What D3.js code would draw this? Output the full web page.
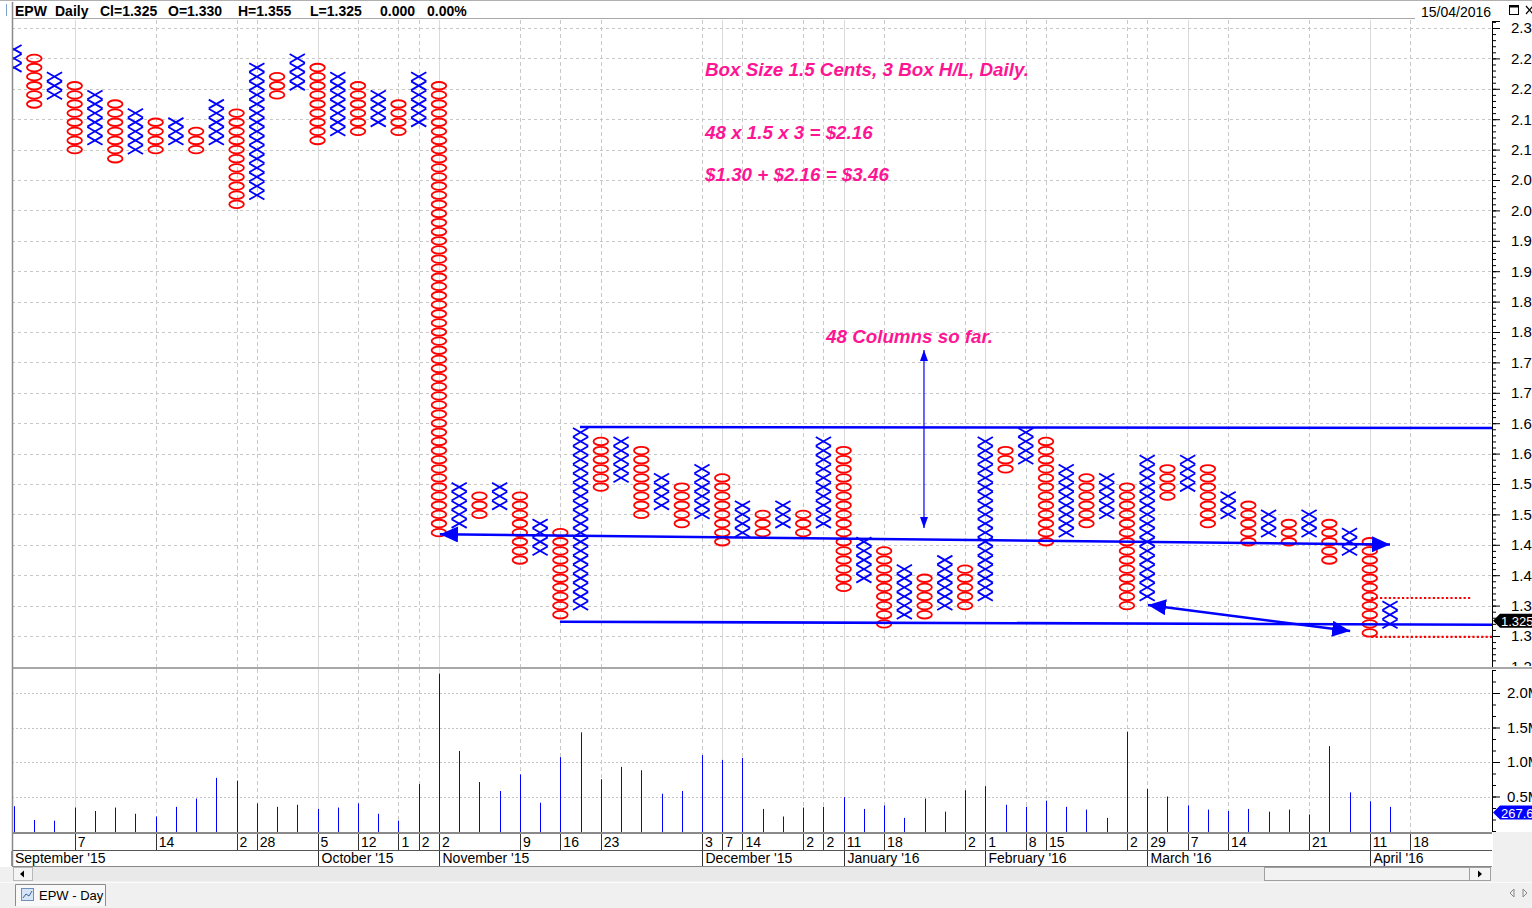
<!DOCTYPE html>
<html>
<head>
<meta charset="utf-8">
<title>EPW Daily - Point &amp; Figure</title>
<script src="https://cdn.jsdelivr.net/npm/d3@7"></script>
<style>
  html, body { margin: 0; padding: 0; background: #fff; }
  svg { display: block; font-family: "Liberation Sans", Arial, sans-serif; }
</style>
</head>
<body>
<svg id="chart" width="1532" height="908"></svg>
<script>
// P&F columns, oldest first. Column 0 is X, then X / O alternate.
const colHigh = [2.265, 2.25, 2.22, 2.205, 2.19, 2.175, 2.16, 2.145, 2.145, 2.13,
  2.175, 2.16, 2.235, 2.22, 2.25, 2.235, 2.22, 2.205, 2.19, 2.175,
  2.22, 2.205, 1.545, 1.53, 1.545, 1.53, 1.485, 1.47, 1.635, 1.62,
  1.62, 1.605, 1.56, 1.545, 1.575, 1.56, 1.515, 1.50, 1.515, 1.50,
  1.62, 1.605, 1.455, 1.44, 1.41, 1.395, 1.425, 1.41, 1.62, 1.605,
  1.635, 1.62, 1.575, 1.56, 1.56, 1.545, 1.59, 1.575, 1.59, 1.575,
  1.53, 1.515, 1.50, 1.485, 1.50, 1.485, 1.47, 1.455, 1.35];
const colLow = [2.235, 2.175, 2.19, 2.10, 2.115, 2.085, 2.10, 2.10, 2.115, 2.10,
  2.115, 2.01, 2.025, 2.19, 2.205, 2.115, 2.13, 2.13, 2.145, 2.13,
  2.145, 1.47, 1.485, 1.50, 1.515, 1.425, 1.44, 1.335, 1.35, 1.545,
  1.56, 1.50, 1.515, 1.485, 1.50, 1.455, 1.47, 1.47, 1.485, 1.47,
  1.485, 1.38, 1.395, 1.32, 1.335, 1.335, 1.35, 1.35, 1.365, 1.575,
  1.59, 1.455, 1.47, 1.485, 1.50, 1.35, 1.365, 1.53, 1.545, 1.485,
  1.50, 1.455, 1.47, 1.455, 1.47, 1.425, 1.44, 1.305, 1.32];
// volume per column, millions
const volume = [0.36, 0.16, 0.15, 0.34, 0.29, 0.34, 0.25, 0.21, 0.35, 0.47,
  0.77, 0.73, 0.40, 0.35, 0.38, 0.32, 0.34, 0.40, 0.25, 0.15,
  0.68, 2.28, 1.16, 0.71, 0.58, 0.82, 0.41, 1.07, 1.43, 0.75,
  0.93, 0.88, 0.54, 0.58, 1.10, 1.03, 1.06, 0.32, 0.21, 0.34,
  0.35, 0.49, 0.32, 0.37, 0.19, 0.47, 0.28, 0.59, 0.65, 0.38,
  0.35, 0.44, 0.35, 0.31, 0.19, 1.44, 0.61, 0.50, 0.37, 0.31,
  0.29, 0.32, 0.28, 0.31, 0.24, 1.23, 0.56, 0.43, 0.35];

const boxSize = 0.015;
const lastClose = 1.325;
const lastVolume = 0.2676;

// date axis: [column, label]
const dayLabels = [[3, "7"], [7, "14"], [11, "2"], [12, "28"], [15, "5"], [17, "12"], [19, "1"], [20, "2"],
  [21, "2"], [25, "9"], [27, "16"], [29, "23"], [34, "3"], [35, "7"], [36, "14"], [39, "2"], [40, "2"],
  [41, "11"], [43, "18"], [47, "2"], [48, "1"], [50, "8"], [51, "15"], [55, "2"], [56, "29"], [58, "7"],
  [60, "14"], [64, "21"], [67, "11"], [69, "18"]];
const monthLabels = [[0, "September '15"], [15, "October '15"], [21, "November '15"], [34, "December '15"],
  [41, "January '16"], [48, "February '16"], [56, "March '16"], [67, "April '16"]];
const solidGridCols = [3, 15, 21, 35, 41, 48, 58, 67];

const priceTicks = d3.range(25, 47).map(k => +(k * 0.05).toFixed(2));   // 1.25 .. 2.30
const priceMinor = d3.range(125, 232).map(k => k / 100);
const volTicks = [0.5, 1.0, 1.5, 2.0];
const volMinor = d3.range(0, 15).map(k => k / 6);

// drawn annotations, in column / price units
const trendLines = [
  { c1: 27.97, p1: 1.6437, c2: 73.05, p2: 1.642 },
  { c1: 21.05, p1: 1.4673, c2: 68.0, p2: 1.4505, arrows: "big" },
  { c1: 26.98, p1: 1.3235, c2: 73.05, p2: 1.3186 },
  { c1: 56.04, p1: 1.351, c2: 66.03, p2: 1.3082, arrows: "big" },
  { c1: 44.97, p1: 1.7704, c2: 44.97, p2: 1.4776, arrows: "small", thin: true }
];
const dottedLines = [
  { c1: 67.07, c2: 72.05, p: 1.3625 },
  { c1: 67.07, c2: 73.05, p: 1.2984 }
];
const notes = [
  { text: "Box Size 1.5 Cents, 3 Box H/L, Daily.", col: 34.15, price: 2.2205 },
  { text: "48 x 1.5 x 3 = $2.16", col: 34.15, price: 2.117 },
  { text: "$1.30 + $2.16 = $3.46", col: 34.15, price: 2.048 },
  { text: "48 Columns so far.", col: 40.13, price: 1.7815 }
];

const svg = d3.select("#chart");
const plotL = 12, plotR = 1492;
const priceTop = 20, priceBot = 667;
const volTop = 669, volBot = 832;

const x = d3.scaleLinear().domain([0, colHigh.length - 1]).range([14, 1390]);
const yP = d3.scaleLinear().domain([1.30, 2.25]).range([636, 58.4]);
const yV = d3.scaleLinear().domain([0, 2.0]).range([831, 693]);
const px = v => Math.round(v) + 0.5;

svg.append("rect").attr("width", 1532).attr("height", 908).attr("fill", "#fff");

const defs = svg.append("defs");
defs.append("clipPath").attr("id", "priceClip").append("rect")
  .attr("x", plotL).attr("y", priceTop).attr("width", plotR - plotL).attr("height", priceBot - priceTop);
defs.append("clipPath").attr("id", "priceAxisClip").append("rect")
  .attr("x", plotR).attr("y", 0).attr("width", 40).attr("height", priceBot - 1);
[["arrowBig", 18, 8], ["arrowSmall", 11, 4]].forEach(([id, len, hw]) => {
  defs.append("marker").attr("id", id).attr("markerUnits", "userSpaceOnUse")
    .attr("viewBox", `0 0 ${len} ${hw * 2}`).attr("refX", len).attr("refY", hw)
    .attr("markerWidth", len).attr("markerHeight", hw * 2).attr("orient", "auto-start-reverse")
    .append("path").attr("d", `M0,0L${len},${hw}L0,${hw * 2}Z`).attr("fill", "#0000ff");
});

// grid
const gridCols = dayLabels.map(d => d[0]);
[[priceTop, priceBot], [volTop, volBot]].forEach(([t, b]) => {
  svg.append("g").selectAll("line").data(gridCols).join("line")
    .attr("x1", d => px(x(d))).attr("x2", d => px(x(d)))
    .attr("y1", t).attr("y2", b)
    .attr("stroke", d => solidGridCols.includes(d) ? "#d9d9d9" : "#c8c8c8")
    .attr("stroke-dasharray", d => solidGridCols.includes(d) ? null : "4,3");
});
svg.append("g").selectAll("line").data(priceTicks.filter(d => d >= 1.3)).join("line")
  .attr("x1", plotL).attr("x2", plotR)
  .attr("y1", d => px(yP(d))).attr("y2", d => px(yP(d)))
  .attr("stroke", "#c8c8c8").attr("stroke-dasharray", "3,3");
svg.append("g").selectAll("line").data(volTicks).join("line")
  .attr("x1", plotL).attr("x2", plotR)
  .attr("y1", d => px(yV(d))).attr("y2", d => px(yV(d)))
  .attr("stroke", "#c4c4c4").attr("stroke-dasharray", "2,2");

// X and O boxes
const boxes = [];
colHigh.forEach((hi, i) => {
  const lo = colLow[i];
  const n = Math.round((hi - lo) / boxSize) + 1;
  for (let j = 0; j < n; j++) boxes.push({ i, type: i % 2 === 0 ? "X" : "O", p: lo + j * boxSize });
});
const boxH = yP(0) - yP(boxSize);
const pf = svg.append("g").attr("clip-path", "url(#priceClip)");
pf.selectAll("path.x").data(boxes.filter(b => b.type === "X")).join("path")
  .attr("class", "x")
  .attr("d", b => {
    const cx = x(b.i), cy = yP(b.p), w = 7.6, h = boxH / 2 - 0.2;
    return `M${cx - w},${cy - h}L${cx + w},${cy + h}M${cx + w},${cy - h}L${cx - w},${cy + h}`;
  })
  .attr("stroke", "#0000ff").attr("stroke-width", 1.8).attr("fill", "none");
pf.selectAll("ellipse").data(boxes.filter(b => b.type === "O")).join("ellipse")
  .attr("cx", b => x(b.i)).attr("cy", b => yP(b.p))
  .attr("rx", 7.3).attr("ry", boxH / 2 - 0.8)
  .attr("stroke", "#ff0000").attr("stroke-width", 1.8).attr("fill", "none");

// volume
svg.append("g").selectAll("line").data(volume).join("line")
  .attr("x1", (d, i) => px(x(i))).attr("x2", (d, i) => px(x(i)))
  .attr("y1", d => yV(d)).attr("y2", volBot)
  .attr("stroke", "#0000ff").attr("stroke-width", 1);

// annotations
const ann = svg.append("g").attr("clip-path", "url(#priceClip)");
ann.selectAll("line.trend").data(trendLines).join("line")
  .attr("class", "trend")
  .attr("x1", d => x(d.c1)).attr("y1", d => yP(d.p1))
  .attr("x2", d => x(d.c2)).attr("y2", d => yP(d.p2))
  .attr("stroke", "#0000ff").attr("stroke-width", d => d.thin ? 1.2 : 2.6)
  .attr("marker-start", d => d.arrows === "big" ? "url(#arrowBig)" : d.arrows === "small" ? "url(#arrowSmall)" : null)
  .attr("marker-end", d => d.arrows === "big" ? "url(#arrowBig)" : d.arrows === "small" ? "url(#arrowSmall)" : null);
ann.selectAll("line.dot").data(dottedLines).join("line")
  .attr("class", "dot")
  .attr("x1", d => x(d.c1)).attr("x2", d => x(d.c2))
  .attr("y1", d => yP(d.p)).attr("y2", d => yP(d.p))
  .attr("stroke", "#ff0000").attr("stroke-width", 2.2).attr("stroke-dasharray", "2.2,2.2");
ann.selectAll("text").data(notes).join("text")
  .attr("x", d => x(d.col)).attr("y", d => yP(d.price))
  .attr("fill", "#ff1493").attr("font-size", 18.8).attr("font-weight", "bold").attr("font-style", "italic")
  .text(d => d.text);

// price axis (labels run off the window edge, as in the source screenshot)
const pAxis = svg.append("g").attr("clip-path", "url(#priceAxisClip)");
pAxis.append("g").attr("transform", `translate(${plotR},0)`)
  .call(d3.axisRight(yP).tickValues(priceMinor).tickSize(4).tickFormat(""))
  .call(g => g.select(".domain").remove());
pAxis.append("g").attr("transform", `translate(${plotR},0)`)
  .call(d3.axisRight(yP).tickValues(priceTicks).tickSize(8).tickPadding(11).tickFormat(d3.format(".2f")))
  .call(g => g.select(".domain").remove())
  .call(g => g.selectAll("text").attr("font-size", 15).attr("font-family", "Liberation Sans, Arial, sans-serif").attr("fill", "#000"));
svg.selectAll(".tick line").attr("stroke", "#000");
svg.append("line").attr("x1", px(plotR)).attr("x2", px(plotR)).attr("y1", 21).attr("y2", priceBot).attr("stroke", "#000");
svg.append("line").attr("x1", plotR).attr("x2", plotR + 8).attr("y1", 21.5).attr("y2", 21.5).attr("stroke", "#000");

// last price tag
const tagY = yP(lastClose);
svg.append("path")
  .attr("d", `M${plotR + 1},${tagY}L${plotR + 8},${tagY - 7}L1532,${tagY - 7}L1532,${tagY + 7}L${plotR + 8},${tagY + 7}Z`)
  .attr("fill", "#000");
svg.append("text").attr("x", plotR + 9).attr("y", tagY + 5).attr("fill", "#fff").attr("font-size", 13)
  .text(lastClose.toFixed(3));

// volume axis
const vAxis = svg.append("g").attr("transform", `translate(${plotR},0)`);
vAxis.append("g").call(d3.axisRight(yV).tickValues(volMinor.filter(d => yV(d) > volTop && yV(d) <= yV(0))).tickSize(4).tickFormat(""))
  .call(g => g.select(".domain").remove());
vAxis.append("g").call(d3.axisRight(yV).tickValues(volTicks).tickSize(8).tickPadding(7).tickFormat(d => d.toFixed(1) + "M"))
  .call(g => g.select(".domain").remove())
  .call(g => g.selectAll("text").attr("font-size", 15).attr("font-family", "Liberation Sans, Arial, sans-serif").attr("fill", "#000"));
vAxis.selectAll(".tick line").attr("stroke", "#000");
svg.append("line").attr("x1", px(plotR)).attr("x2", px(plotR)).attr("y1", volTop + 1).attr("y2", volBot - 1).attr("stroke", "#000");
const vTagY = yV(lastVolume);
svg.append("path")
  .attr("d", `M${plotR + 1},${vTagY}L${plotR + 8},${vTagY - 7}L1532,${vTagY - 7}L1532,${vTagY + 7}L${plotR + 8},${vTagY + 7}Z`)
  .attr("fill", "#0000ff");
svg.append("text").attr("x", plotR + 9).attr("y", vTagY + 5).attr("fill", "#fff").attr("font-size", 13)
  .text((lastVolume * 1000).toFixed(1) + "K");

// frame lines
svg.append("line").attr("x1", 0).attr("x2", 1532).attr("y1", 0.5).attr("y2", 0.5).attr("stroke", "#b0b0b0");
svg.append("line").attr("x1", plotL).attr("x2", 1415).attr("y1", 18.5).attr("y2", 18.5).attr("stroke", "#a8a8a8");
svg.append("line").attr("x1", plotL).attr("x2", 1532).attr("y1", 668).attr("y2", 668).attr("stroke", "#a8a8a8").attr("stroke-width", 2);
svg.append("line").attr("x1", 6.5).attr("x2", 6.5).attr("y1", 4).attr("y2", 16).attr("stroke", "#7da2ce");

// header
const header = svg.append("text").attr("y", 16).attr("font-size", 14).attr("font-weight", "bold").attr("fill", "#000");
[["EPW", 15], ["Daily", 55], ["Cl=1.325", 100], ["O=1.330", 168], ["H=1.355", 238], ["L=1.325", 310], ["0.000", 380], ["0.00%", 427]]
  .forEach(([t, xx]) => header.append("tspan").attr("x", xx).text(t));
svg.append("text").attr("x", 1421).attr("y", 17).attr("font-size", 14).attr("fill", "#000").text("15/04/2016");
svg.append("rect").attr("x", 1509.5).attr("y", 5.5).attr("width", 9).attr("height", 9).attr("fill", "none").attr("stroke", "#000");
svg.append("line").attr("x1", 1509.5).attr("x2", 1518.5).attr("y1", 6.5).attr("y2", 6.5).attr("stroke", "#000").attr("stroke-width", 2);
svg.append("path").attr("d", "M1526,6L1533,14M1533,6L1526,14").attr("stroke", "#000").attr("stroke-width", 1.2);

// date axis
const dAxis = svg.append("g");
dAxis.append("rect").attr("x", plotL).attr("y", 833).attr("width", plotR - plotL).attr("height", 33).attr("fill", "#fff");
dAxis.append("line").attr("x1", plotL).attr("x2", plotR).attr("y1", 833).attr("y2", 833).attr("stroke", "#8a8a8a").attr("stroke-width", 2);
dAxis.append("line").attr("x1", plotL).attr("x2", plotR).attr("y1", 850.5).attr("y2", 850.5).attr("stroke", "#555");
dAxis.append("line").attr("x1", plotL).attr("x2", plotR).attr("y1", 866.5).attr("y2", 866.5).attr("stroke", "#888");
dAxis.append("g").selectAll("line").data(dayLabels).join("line")
  .attr("x1", d => px(x(d[0]))).attr("x2", d => px(x(d[0])))
  .attr("y1", 834).attr("y2", 850).attr("stroke", "#333");
dAxis.append("g").selectAll("text").data(dayLabels).join("text")
  .attr("x", d => x(d[0]) + 3).attr("y", 847).attr("font-size", 14).attr("fill", "#000")
  .text(d => d[1]);
const monthX = c => c === 0 ? plotL : px(x(c));
dAxis.append("g").selectAll("line").data(monthLabels).join("line")
  .attr("x1", d => monthX(d[0])).attr("x2", d => monthX(d[0]))
  .attr("y1", 851).attr("y2", 866).attr("stroke", "#333");
dAxis.append("g").selectAll("text").data(monthLabels).join("text")
  .attr("x", d => monthX(d[0]) + 3).attr("y", 863).attr("font-size", 14).attr("fill", "#000")
  .text(d => d[1]);

// right filler, scrollbar, tabs
svg.append("rect").attr("x", plotR + 1).attr("y", 832).attr("width", 40).attr("height", 50).attr("fill", "#f0f0f0");
svg.append("rect").attr("x", 0).attr("y", 867).attr("width", 1532).attr("height", 41).attr("fill", "#f0f0f0");
svg.append("rect").attr("x", 33).attr("y", 867).attr("width", 1232).attr("height", 14).attr("fill", "#e9e9e9");
svg.append("rect").attr("x", 13.5).attr("y", 867.5).attr("width", 19).attr("height", 13).attr("fill", "#f4f4f4").attr("stroke", "#b8b8b8");
svg.append("path").attr("d", "M20,874L24,870.5L24,877.5Z").attr("fill", "#000");
svg.append("rect").attr("x", 1264.5).attr("y", 867.5).attr("width", 205).attr("height", 13).attr("fill", "#f2f2f2").attr("stroke", "#a0a0a0");
svg.append("rect").attr("x", 1469.5).attr("y", 867.5).attr("width", 21).attr("height", 13).attr("fill", "#f4f4f4").attr("stroke", "#a0a0a0");
svg.append("path").attr("d", "M1482,874L1478,870.5L1478,877.5Z").attr("fill", "#000");
svg.append("line").attr("x1", 0).attr("x2", 1532).attr("y1", 882.5).attr("y2", 882.5).attr("stroke", "#fafafa");
svg.append("line").attr("x1", px(plotL)).attr("x2", px(plotL)).attr("y1", 2).attr("y2", 866).attr("stroke", "#8a8a8a").attr("stroke-width", 1.5);

svg.append("path").attr("d", "M15.5,906V884.5H105.5V906").attr("fill", "#f8f8f8").attr("stroke", "#8c8c8c");
svg.append("rect").attr("x", 21.5).attr("y", 888.5).attr("width", 12).attr("height", 12).attr("fill", "#d6e5f5").attr("stroke", "#6e8fb8");
svg.append("path").attr("d", "M23,898L26,894L29,896L32,891").attr("fill", "none").attr("stroke", "#3b64a0");
svg.append("text").attr("x", 39).attr("y", 900).attr("font-size", 13).attr("fill", "#000").text("EPW - Day");
svg.append("path").attr("d", "M1510,893L1514,889L1514,897Z").attr("fill", "none").attr("stroke", "#888");
svg.append("path").attr("d", "M1523,889L1527,893L1523,897Z").attr("fill", "none").attr("stroke", "#888");
</script>
</body>
</html>
